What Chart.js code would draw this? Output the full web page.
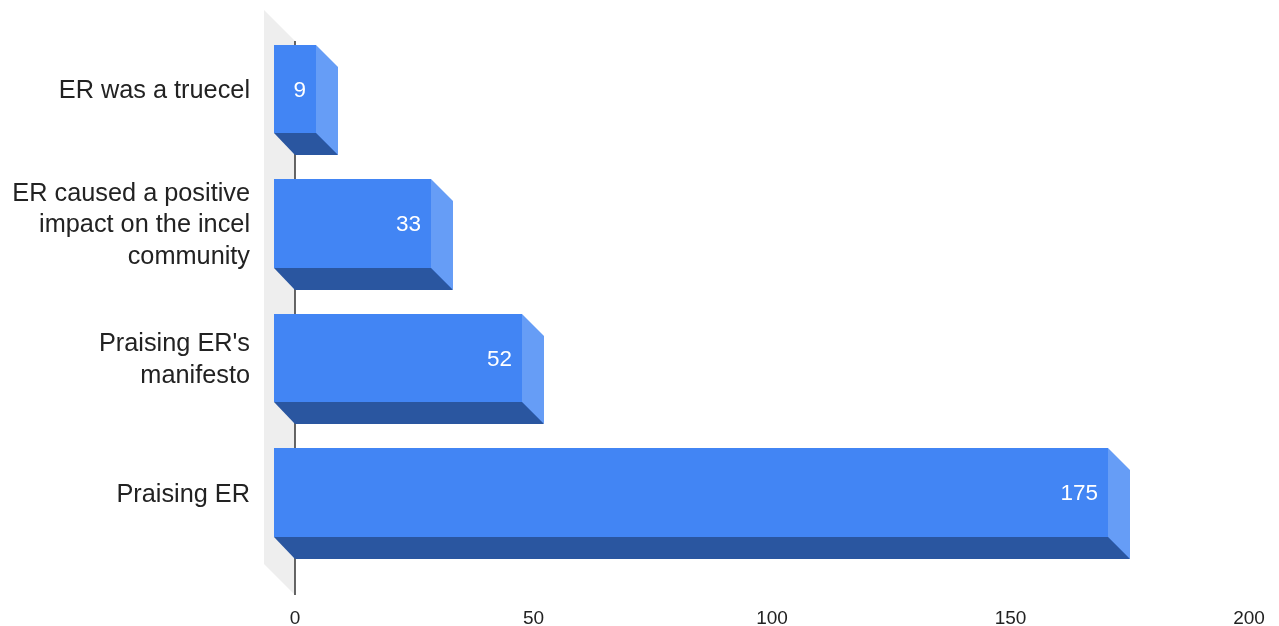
<!DOCTYPE html>
<html>
<head>
<meta charset="utf-8">
<style>html,body{margin:0;padding:0;background:#fff}#wrap{width:1279px;height:626px;position:relative}</style>
<script src="https://cdn.jsdelivr.net/npm/chart.js@4"></script>
</head>
<body>
<div id="wrap"><canvas id="c" width="1279" height="626"></canvas></div>
<script>
const categories = [
  "ER was a truecel",
  ["ER caused a positive", "impact on the incel", "community"],
  ["Praising ER's", "manifesto"],
  "Praising ER"
];
const seriesValues = [9, 33, 52, 175];
const xTickStep = 50;
const xMax = 200;

const DEPTH = 22;
const FRONT = "#4285f4", SIDE = "#669df6", BOTTOM = "#2a56a0", WALL = "#eeeeee", AXIS = "#333333";

function poly(ctx, pts, fill) {
  ctx.beginPath();
  pts.forEach((p, i) => i ? ctx.lineTo(p[0], p[1]) : ctx.moveTo(p[0], p[1]));
  ctx.closePath();
  ctx.fillStyle = fill;
  ctx.fill();
}

const depth3d = {
  id: "depth3d",
  beforeDatasetsDraw(chart) {
    const { ctx, chartArea: a, scales: { x } } = chart;
    const x0 = x.getPixelForValue(0);
    const top = a.top - 2.5, bot = a.bottom + 13;
    ctx.save();
    poly(ctx, [[x0 - 31, top - 31], [x0, top], [x0, bot], [x0 - 31, bot - 31]], WALL);
    ctx.strokeStyle = AXIS;
    ctx.lineWidth = 1.5;
    ctx.beginPath(); ctx.moveTo(x0, top); ctx.lineTo(x0, bot); ctx.stroke();
    ctx.restore();
  },
  afterDatasetsDraw(chart) {
    const { ctx } = chart;
    const meta = chart.getDatasetMeta(0);
    ctx.save();
    meta.data.forEach((bar, i) => {
      const p = bar.getProps(["x", "y", "base", "height"], true);
      const d = DEPTH;
      const l = Math.round(p.base), r = Math.ceil(p.x);
      const t = Math.floor(p.y - p.height / 2), b = Math.ceil(p.y + p.height / 2);
      const fl = l - d + 1;
      poly(ctx, [[r - d, t - d], [r, t], [r, b], [r - d, b - d]], SIDE);
      poly(ctx, [[fl, b - d], [r - d, b - d], [r, b], [l, b]], BOTTOM);
      ctx.fillStyle = FRONT;
      ctx.fillRect(fl, t - d, r - d - fl, b - t);
      ctx.fillStyle = "#ffffff";
      ctx.font = '22.5px "Liberation Sans", Arial, sans-serif';
      ctx.textAlign = "right";
      ctx.textBaseline = "middle";
      ctx.fillText(String(seriesValues[i]), r - d - 10, p.y - d + 1.5);
    });
    ctx.restore();
  }
};

new Chart(document.getElementById("c"), {
  type: "bar",
  data: {
    labels: categories,
    datasets: [{ data: seriesValues, backgroundColor: FRONT, borderWidth: 0, categoryPercentage: 1, barPercentage: 0.65 }]
  },
  plugins: [depth3d],
  options: {
    indexAxis: "y",
    responsive: false,
    animation: false,
    layout: { padding: { top: 43.5, right: 30, left: 0, bottom: 0 } },
    plugins: { legend: { display: false }, tooltip: { enabled: false }, title: { display: false } },
    scales: {
      x: {
        min: 0, max: xMax,
        grid: { display: false, drawTicks: false },
        border: { display: false },
        afterFit(s) { s.height = 44; s.paddingLeft = 0; s.paddingRight = 0; },
        ticks: {
          stepSize: xTickStep, maxRotation: 0, padding: 25, color: "#222222",
          font: { family: '"Liberation Sans", Arial, sans-serif', size: 19 }
        }
      },
      y: {
        grid: { display: false, drawTicks: false },
        border: { display: false },
        afterFit(s) { s.width = 295; s.paddingTop = 0; s.paddingBottom = 0; },
        ticks: {
          autoSkip: false, padding: 45, labelOffset: -20, color: "#222222",
          font: { family: '"Liberation Sans", Arial, sans-serif', size: 25.3, lineHeight: 1.25 }
        }
      }
    }
  }
});
</script>
</body>
</html>
